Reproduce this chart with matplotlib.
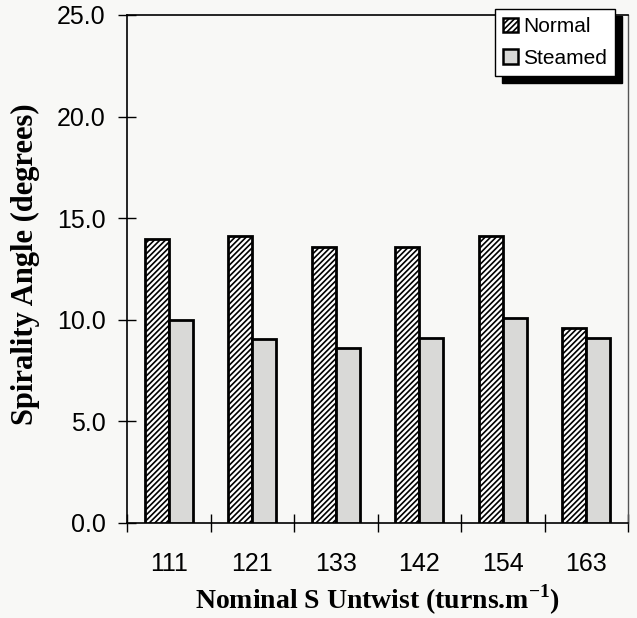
import matplotlib
matplotlib.use("Agg")
import matplotlib.pyplot as plt
import numpy as np
from matplotlib.patches import Patch

# Data
untwist = ["111", "121", "133", "142", "154", "163"]
normal = [14.0, 14.1, 13.6, 13.6, 14.1, 9.6]
steamed = [10.0, 9.05, 8.6, 9.1, 10.1, 9.1]
y_ticks = [0.0, 5.0, 10.0, 15.0, 20.0, 25.0]

bg = "#f8f8f6"
grey = "#d9d9d7"

plt.rcParams["hatch.linewidth"] = 1.2

fig = plt.figure(figsize=(6.37, 6.18), dpi=100, facecolor=bg)
ax = fig.add_axes([127 / 637, 95 / 618, 501 / 637, 508 / 618], facecolor=bg)

x = np.arange(len(untwist))
w = 0.29
ax.bar(x - w / 2, normal, w, facecolor="white", edgecolor="black",
       hatch="//////", linewidth=2.0, zorder=3)
ax.bar(x + w / 2, steamed, w, facecolor=grey, edgecolor="black",
       linewidth=2.0, zorder=3)

ax.set_xlim(-0.5, len(untwist) - 0.5)
ax.set_ylim(0, 25)

# category labels at group centres, tick marks on group boundaries
ax.set_xticks(x)
ax.set_xticklabels(untwist, fontfamily="Liberation Sans", fontsize=18)
ax.tick_params(axis="x", which="major", length=0, pad=21)
ax.set_xticks(np.arange(-0.5, len(untwist)), minor=True)
ax.tick_params(axis="x", which="minor", direction="inout", length=13,
               width=1.0)

ax.set_yticks(y_ticks)
ax.set_yticklabels([f"{v:.1f}" for v in y_ticks],
                   fontfamily="Liberation Sans", fontsize=18)
ax.tick_params(axis="y", direction="inout", length=13, width=1.0, pad=9)

for s in ["left", "bottom", "top"]:
    ax.spines[s].set_linewidth(1.2)
    ax.spines[s].set_color("black")
ax.spines["right"].set_linewidth(1.0)
ax.spines["right"].set_color("#555555")

ax.set_xlabel("Nominal S Untwist (turns.m$^{\\mathregular{-1}}$)",
              fontfamily="Liberation Serif", fontweight="bold", fontsize=20,
              labelpad=5)
ax.set_ylabel("Spirality Angle (degrees)", fontfamily="Liberation Serif",
              fontweight="bold", fontsize=22)
ax.yaxis.set_label_coords((40 - 127) / 501, 0.51)

handles = [
    Patch(facecolor="white", edgecolor="black", hatch="//////", linewidth=1.8),
    Patch(facecolor=grey, edgecolor="black", linewidth=1.8),
]
leg = fig.legend(handles, ["Normal", "Steamed"], loc="upper right",
                 bbox_to_anchor=(615 / 637, 1 - 9 / 618),
                 prop={"family": "Liberation Sans", "size": 15},
                 frameon=True, fancybox=False, framealpha=1,
                 edgecolor="black", facecolor="white",
                 shadow={"color": "black", "alpha": 1, "ox": 5, "oy": -5},
                 handlelength=0.7, handleheight=0.7, handletextpad=0.25,
                 labelspacing=0.6, borderpad=0.4, borderaxespad=0)
leg.get_frame().set_linewidth(1.0)
leg.set_zorder(10)

fig.savefig("out.png", dpi=100, facecolor=bg)
